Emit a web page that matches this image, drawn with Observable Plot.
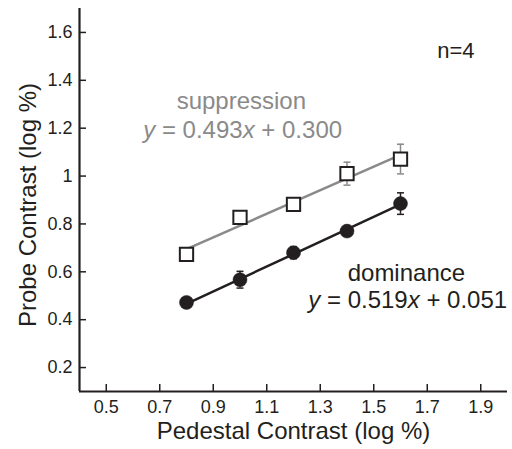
<!DOCTYPE html>
<html>
<head>
<meta charset="utf-8">
<script src="https://cdn.jsdelivr.net/npm/d3@7"></script>
<script src="https://cdn.jsdelivr.net/npm/@observablehq/plot@0.6"></script>
<style>
  html, body { margin: 0; padding: 0; background: #fff; }
  svg { display: block; }
</style>
</head>
<body>
<div id="chart"></div>
<script>
// ---- data ----
const pedestal = [0.8, 1.0, 1.2, 1.4, 1.6];
const dominance = [0.472, 0.567, 0.680, 0.770, 0.885];
const dominanceErr = [0.015, 0.035, 0.025, 0.02, 0.045];
const suppression = [0.673, 0.827, 0.882, 1.010, 1.071];
const suppressionErr = [0.01, 0.01, 0.01, 0.048, 0.062];
const fitSlopes = [0.519, 0.493];      // dominance, suppression
const fitIntercepts = [0.051, 0.300];
const fitRange = [0.8, 1.6];
const seriesNames = ["dominance", "suppression"];
const equations = ["y = 0.519x + 0.051", "y = 0.493x + 0.300"];
const nLabel = "n=4";
const xTicks = [0.5, 0.7, 0.9, 1.1, 1.3, 1.5, 1.7, 1.9];
const yTicks = [0.2, 0.4, 0.6, 0.8, 1, 1.2, 1.4, 1.6];
const xDomain = [0.4, 2.0];
const yDomain = [0.1, 1.7];
const xTitle = "Pedestal Contrast (log %)";
const yTitle = "Probe Contrast (log %)";

// ---- tables built from the arrays ----
const dom = pedestal.map((x, i) => ({x, y: dominance[i], e: dominanceErr[i]}));
const sup = pedestal.map((x, i) => ({x, y: suppression[i], e: suppressionErr[i]}));
const fitLine = (k) => fitRange.map(x => ({x, y: fitSlopes[k] * x + fitIntercepts[k]}));

const GRAY = "#8a8a8a";
const INK = "#231f20";
const capSymbol = {
  draw(ctx, size) {
    const hw = Math.sqrt(size / Math.PI);
    ctx.moveTo(-hw, 0);
    ctx.lineTo(hw, 0);
  }
};
const caps = (rows) => rows.flatMap(d => [{x: d.x, y: d.y - d.e}, {x: d.x, y: d.y + d.e}]);

const chart = Plot.plot({
  width: 512,
  height: 449,
  marginLeft: 79,
  marginRight: 5,
  marginTop: 8,
  marginBottom: 58,
  x: {domain: xDomain},
  y: {domain: yDomain},
  style: {fontFamily: "'Liberation Sans', Arial, sans-serif", color: INK, background: "#fff", overflow: "visible"},
  marks: [
    Plot.axisX({ticks: xTicks, tickSize: -7, tickPadding: 16, fontSize: 18, strokeWidth: 1.5, label: null, tickFormat: d => String(d)}),
    Plot.axisY({ticks: yTicks, tickSize: -7, tickPadding: 14, fontSize: 18, strokeWidth: 1.5, label: null, tickFormat: d => String(d)}),
    Plot.ruleX([xDomain[0]], {stroke: INK, strokeWidth: 2.2}),
    Plot.ruleY([yDomain[0]], {stroke: INK, strokeWidth: 2.2}),
    // fit lines
    Plot.line(fitLine(1), {x: "x", y: "y", stroke: GRAY, strokeWidth: 2.5}),
    Plot.line(fitLine(0), {x: "x", y: "y", stroke: INK, strokeWidth: 2.5}),
    // error bars
    Plot.ruleX(sup, {x: "x", y1: d => d.y - d.e, y2: d => d.y + d.e, stroke: GRAY, strokeWidth: 1.5}),
    Plot.dot(caps(sup), {x: "x", y: "y", symbol: capSymbol, r: 3.5, stroke: GRAY, strokeWidth: 1.5, fill: "none"}),
    Plot.ruleX(dom, {x: "x", y1: d => d.y - d.e, y2: d => d.y + d.e, stroke: INK, strokeWidth: 1.5}),
    Plot.dot(caps(dom), {x: "x", y: "y", symbol: capSymbol, r: 3.5, stroke: INK, strokeWidth: 1.5, fill: "none"}),
    // markers
    Plot.dot(sup, {x: "x", y: "y", symbol: "square", r: 7.5, fill: "#fff", stroke: INK, strokeWidth: 2}),
    Plot.dot(dom, {x: "x", y: "y", symbol: "circle", r: 7, fill: INK, stroke: INK, strokeWidth: 0.5}),
    // annotations
    Plot.text([seriesNames[1]], {x: 1.005, y: 1.314, text: d => d, fontSize: 24, fill: GRAY}),
    Plot.text([equations[1]], {x: 1.01, y: 1.193, text: d => d, fontSize: 24, fill: GRAY}),
    Plot.text([seriesNames[0]], {x: 1.622, y: 0.592, text: d => d, fontSize: 24, fill: INK}),
    Plot.text([equations[0]], {x: 1.627, y: 0.479, text: d => d, fontSize: 24, fill: INK}),
    Plot.text([nLabel], {x: 1.807, y: 1.524, text: d => d, fontSize: 22, fill: INK}),
    // axis titles
    Plot.text([xTitle], {frameAnchor: "bottom", dy: 40, textAnchor: "middle", lineAnchor: "middle", text: d => d, fontSize: 24, fill: INK}),
    Plot.text([yTitle], {frameAnchor: "left", dx: -51, dy: 5, rotate: -90, textAnchor: "middle", lineAnchor: "middle", text: d => d, fontSize: 24, fill: INK})
  ]
});

// italicise the variables in the equations
d3.select(chart).selectAll("text").each(function () {
  const t = this.textContent;
  const m = /^y = ([0-9.]+)x \+ ([0-9.]+)$/.exec(t);
  if (m && this.children.length === 0) {
    const sel = d3.select(this);
    sel.text(null);
    sel.append("tspan").attr("font-style", "italic").text("y");
    sel.append("tspan").text(" = " + m[1]);
    sel.append("tspan").attr("font-style", "italic").text("x");
    sel.append("tspan").text(" + " + m[2]);
  }
});

document.getElementById("chart").append(chart);
</script>
</body>
</html>
